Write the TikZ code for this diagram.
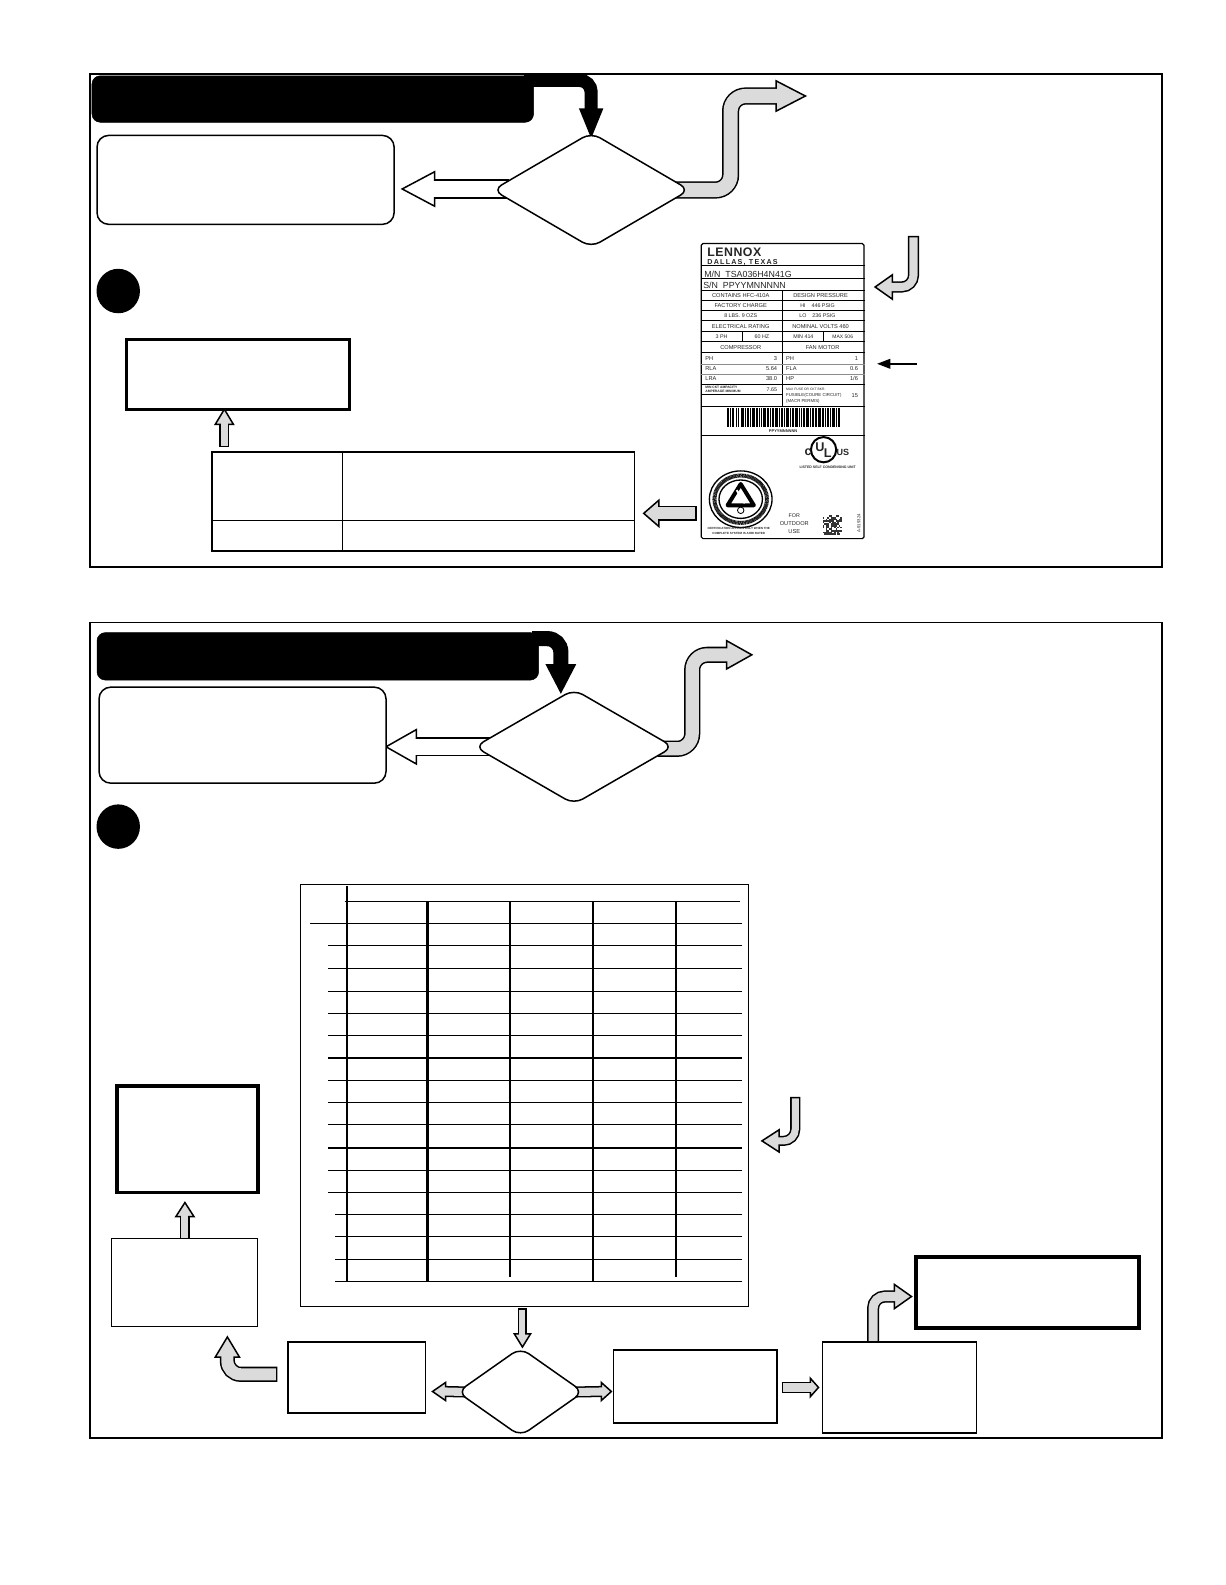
\documentclass[tikz,border=0pt]{standalone}
\usepackage{fontspec}
\setmainfont{Liberation Sans}
\usetikzlibrary{shapes.geometric,backgrounds,calc}
\definecolor{agrey}{gray}{0.86}
\newcounter{lb}
\tikzset{
  panel/.style={draw=black,line width=0.9pt,fill=none},
  banner/.style={draw=black,fill=black,rounded corners=5pt,inner sep=0pt,line width=0.3pt},
  rbox/.style={draw=black,fill=white,rounded corners=7pt,line width=0.9pt,inner sep=0pt},
  ddd/.style={diamond,draw=black,fill=white,rounded corners=6pt,line width=0.9pt,inner sep=0pt,aspect=1.7},
  dot/.style={ellipse,fill=black,inner sep=0pt},
  thick box/.style={draw=black,fill=white,line width=2pt,inner sep=0pt},
  thin box/.style={draw=black,fill=white,line width=0.7pt,inner sep=0pt},
  mid box/.style={draw=black,fill=white,line width=1pt,inner sep=0pt},
  lbl/.style={inner sep=0pt,outer sep=0pt,text=black!85},
  gridh/.style={draw=black,line width=0.7pt},
  gridv/.style={draw=black,line width=1.3pt},
  lab/.style={draw=black,line width=0.55pt},
  labthin/.style={draw=black!45,line width=0.25pt},
}
\newcommand\pw{*0.6063pt}
% options, path, shaft width, fill, end coordinate, angle, head length, head half width
\newcommand\BlockArrow[8]{%
  \draw[black,line width=(#3+3)\pw,#1,shorten <=-0.9pt] #2;
  \draw[shift={(#5)},rotate=#6,fill=#4,draw=black,line width=0.9pt,line join=miter] (#7,0)--(0,#8)--(0,-#8)--cycle;
  \draw[#4,line width=#3\pw,#1,shorten >=-1.5pt] #2;
}
\newcommand\LT[4][]{\stepcounter{lb}\node[lbl,#1] (lt\thelb) at (#2,#3) {#4};}
\newcommand\fs[1]{\fontsize{#1}{#1}\selectfont}
\begin{document}
\begin{tikzpicture}[x=0.6063pt,y=-0.6063pt]
\useasboundingbox (0,0) rectangle (1212.3,1568.5);

% ---------- panels
\node[panel,minimum width=1061\pw,minimum height=488\pw,inner sep=0pt] (p1) at (619.5,317) {};
\node[panel,minimum width=1061\pw,minimum height=807\pw,inner sep=0pt] (p2) at (619.5,1019.5) {};

% ---------- top panel
\node[banner,minimum width=437\pw,minimum height=46\pw] (ban1) at (309.5,98) {};
\node[rbox,minimum width=294\pw,minimum height=88\pw] (rb1) at (243,178) {};
\node[ddd,minimum width=195\pw,minimum height=114\pw] (d1) at (585,188) {};
\node[dot,minimum width=43\pw,minimum height=44\pw] (c1) at (117,288) {};
\node[thick box,minimum width=221\pw,minimum height=69\pw] (tb1) at (235.5,370.5) {};
\node[mid box,minimum width=418\pw,minimum height=98\pw] (tab1) at (419,496) {};
\coordinate (tab1v) at (339,447);
\coordinate (tab1w) at (339,545);
\draw[mid box] (tab1v) -- (tab1w);
\draw[mid box] (tab1.west |- 0,515) -- (tab1.east |- 0,515);

% ---------- rating label
\node[draw=black,fill=white,line width=0.7pt,rounded corners=1pt,minimum width=161\pw,minimum height=292\pw,inner sep=0pt] (rl) at (774.5,387) {};
\foreach \y in {263,276,287,297,307,317,328,338,349,380,402,431} \draw[lab] (rl.west |- 0,\y) -- (rl.east |- 0,\y);
\draw[lab] (774.5,287) -- (774.5,402);
\draw[lab] (734.5,328) -- (734.5,338);
\draw[lab] (815,328) -- (815,338);
\foreach \y in {360,370} \draw[labthin] (rl.west |- 0,\y) -- (rl.east |- 0,\y);
\draw[lab] (694,390) -- (774.5,390);
\LT[anchor=west,font=\bfseries\fs{7.4}\addfontfeatures{LetterSpace=4}]{700}{249.5}{LENNOX}
\LT[anchor=west,font=\bfseries\fs{4.3}\addfontfeatures{LetterSpace=17}]{700}{259.5}{DALLAS, TEXAS}
\LT[anchor=west,font=\fs{5.3}]{697}{271}{M/N\ \ TSA036H4N41G}
\LT[anchor=west,font=\fs{5.3}]{696}{282}{S/N\ \ PPYYMNNNNN}
\LT[font=\fs{3.4}]{733}{292}{CONTAINS HFC-410A}
\LT[font=\fs{3.4}]{812}{292}{DESIGN PRESSURE}
\LT[font=\fs{3.4}]{733}{302}{FACTORY CHARGE}
\LT[font=\fs{3.2}]{809}{302}{HI \ \ \ 446 PSIG}
\LT[font=\fs{3.2}]{733}{312}{8 LBS. 9 OZS}
\LT[font=\fs{3.2}]{809}{312}{LO \ \ \ 236 PSIG}
\LT[font=\fs{3.4}]{733}{323}{ELECTRICAL RATING}
\LT[font=\fs{3.4}]{812}{323}{NOMINAL VOLTS 460}
\LT[font=\fs{3.2}]{714}{333}{3 PH}
\LT[font=\fs{3.2}]{754}{333}{60 HZ}
\LT[font=\fs{3.2}]{795}{333}{MIN 414}
\LT[font=\fs{3}]{834}{333}{MAX 506}
\LT[font=\fs{3.4}]{733}{344}{COMPRESSOR}
\LT[font=\fs{3.4}]{814}{344}{FAN MOTOR}
\LT[anchor=west,font=\fs{3.4}]{698}{355}{PH}
\LT[anchor=east,font=\fs{3.4}]{769}{355}{3}
\LT[anchor=west,font=\fs{3.4}]{778}{355}{PH}
\LT[anchor=east,font=\fs{3.4}]{849}{355}{1}
\LT[anchor=west,font=\fs{3.4}]{698}{365}{RLA}
\LT[anchor=east,font=\fs{3.4}]{769}{365}{5.64}
\LT[anchor=west,font=\fs{3.4}]{778}{365}{FLA}
\LT[anchor=east,font=\fs{3.4}]{849}{365}{0.6}
\LT[anchor=west,font=\fs{3.4}]{698}{375}{LRA}
\LT[anchor=east,font=\fs{3.4}]{769}{375}{38.0}
\LT[anchor=west,font=\fs{3.4}]{778}{375}{HP}
\LT[anchor=east,font=\fs{3.4}]{849}{375}{1/6}
\LT[anchor=west,font=\bfseries\fs{2}]{698}{383.5}{MIN CKT AMPACITY}
\LT[anchor=west,font=\bfseries\fs{2}]{698}{387}{AMPERAGE MINIMUM}
\LT[anchor=east,font=\fs{3.2}]{769}{386}{7.65}
\LT[anchor=west,font=\fs{2}]{778}{385}{MAX FUSE OR CKT BKR.}
\LT[anchor=west,font=\fs{2.6}]{778}{391}{FUSIBLE(COURE CIRCUIT)}
\LT[anchor=west,font=\fs{2.6}]{778}{397}{(MACR PERMIS)}
\LT[anchor=east,font=\fs{3.4}]{849}{391}{15}
% barcode
\foreach \x/\w in {719/2,722/1,724/2,728/1,730/1,733/3,737/1,739/2,742/1,744/3,748/2,751/1,753/1,755/3,759/2,762/1,764/2,767/3,771/1,773/2,776/1,778/3,782/1,784/2,787/3,791/1,793/1,795/2,798/3,802/1,804/2,807/1,809/3,813/2,816/1,818/2,821/1,823/3,827/1,829/2}
  \fill[black] (\x,404) rectangle (\x+\w,423);
\LT[font=\bfseries\fs{2.4}]{775}{426.5}{PPYYMNNNNN}
% UL mark
\node[circle,draw=black,line width=1.2pt,fill=white,minimum size=25\pw,inner sep=0pt] (ul) at (815,445) {};
\LT[font=\bfseries\fs{7.6}]{811.5}{442.5}{U}
\LT[font=\bfseries\fs{7.6}]{819}{448}{L}
\LT[anchor=east,font=\bfseries\fs{7.5}]{803}{447}{c}
\LT[anchor=west,font=\bfseries\fs{5.4}]{828}{448}{US}
\LT[font=\bfseries\fs{2.1}]{819}{462.5}{LISTED SELF CONDENSING UNIT}
% seal
\node[ellipse,draw=black,line width=0.8pt,fill=white,minimum width=62\pw,minimum height=56\pw,inner sep=0pt] (seal) at (733,494) {};
\draw[black!90,line width=2.4pt,dash pattern=on 0.6pt off 0.25pt] (seal.center) ellipse [x radius=26,y radius=23.5];
\draw[black,line width=0.8pt] (seal.center) ellipse [x radius=21.5,y radius=19];
\draw[black,line width=2.4pt,line join=round] (720,500) -- (733,479) -- (746,500) -- cycle;
\draw[white,line width=1.2pt] (729,485) -- (737,498);
\draw[black,line width=0.5pt,fill=white] (733,505) circle [radius=3.2];
\LT[font=\bfseries\fs{1.8}]{731}{522.5}{CERTIFICATION APPLIES ONLY WHEN THE}
\LT[font=\bfseries\fs{1.8}]{731}{528}{COMPLETE SYSTEM IS AHRI RATED}
\LT[font=\fs{3.2}]{786}{510}{FOR}
\LT[font=\fs{3.4}]{786}{518}{OUTDOOR}
\LT[font=\fs{3.4}]{786}{526}{USE}
% matrix code
\pgfmathsetseed{1234}
\foreach \i in {0,...,11} \foreach \j in {0,...,11} {
  \pgfmathparse{rnd>0.45?1:0}
  \ifnum\pgfmathresult=1 \fill[black!80] (814+\i*1.6,510+\j*1.6) rectangle ++(1.6,1.6); \fi
}
\node[lbl,rotate=90,font=\fs{2.6}] (lv) at (850,518) {A-919324};

% ---------- bottom panel
\node[banner,minimum width=437\pw,minimum height=47\pw] (ban2) at (314.5,649.5) {};
\node[rbox,minimum width=284\pw,minimum height=95\pw] (rb2) at (240,727.5) {};
\node[ddd,minimum width=197\pw,minimum height=114\pw] (d2) at (568,739) {};
\node[dot,minimum width=43\pw,minimum height=44\pw] (c2) at (117,818) {};
\node[thin box,minimum width=444\pw,minimum height=418\pw] (tab2) at (519,1084) {};
% data grid
\draw[gridv] (343,877) -- (343,1268);
\foreach \x/\e in {423/1268,505/1264,587/1268,669/1264} \draw[gridv] (\x,892) -- (\x,\e);
\draw[gridh] (341,892) -- (732,892);
\draw[gridh] (307,914) -- (734,914);
\foreach \y in {936,958,981,1003,1025,1047,1069,1091,1113,1136,1158,1180} \draw[gridh] (325,\y) -- (734,\y);
\foreach \y in {1202,1224,1246,1268} \draw[gridh] (332,\y) -- (734,\y);

\node[thick box,line width=2.2pt,minimum width=139\pw,minimum height=105\pw] (tb2) at (185.5,1127.5) {};
\node[thin box,minimum width=145\pw,minimum height=87\pw] (b3) at (182.5,1269.5) {};
\node[mid box,minimum width=136\pw,minimum height=70\pw] (b4) at (353,1363) {};
\node[ddd,aspect=1.4,minimum width=125\pw,minimum height=88\pw] (d3) at (515,1377.5) {};
\node[mid box,minimum width=162\pw,minimum height=72\pw] (b5) at (688,1372) {};
\node[thin box,minimum width=152\pw,minimum height=90\pw] (b6) at (890,1373) {};
\node[thick box,line width=2.4pt,minimum width=221\pw,minimum height=70\pw] (tb3) at (1016.5,1279) {};

% ---------- block arrows (behind the boxes)
\begin{scope}[on background layer]
\coordinate (s1) at (520,79.5);
\coordinate (e1) at (585,108);
\BlockArrow{rounded corners=7pt}{(s1) -- (585,79.5) -- (e1)}{10}{black}{e1}{-90}{27}{11}
\coordinate (e2) at (768,95);
\BlockArrow{rounded corners=9pt}{($(d1.east)+(-15,0)$) -- (723,188) -- (723,95) -- (e2)}{14}{agrey}{e2}{0}{29}{15}
\coordinate (e3) at (430,187);
\BlockArrow{}{($(d1.west)+(15,-1)$) -- (e3)}{16}{white}{e3}{180}{32}{17}
\coordinate (e4) at (222,420);
\BlockArrow{}{(222,441) -- (e4)}{7}{agrey}{e4}{90}{15}{9}
\coordinate (e5) at (652,508);
\coordinate (s5) at (688,508);
\BlockArrow{}{(s5) -- (e5)}{12}{agrey}{e5}{180}{15}{13}
\coordinate (s6) at (904,235);
\coordinate (e6) at (883,284);
\BlockArrow{rounded corners=7pt}{(s6) -- (904,284) -- (e6)}{8}{agrey}{e6}{180}{17}{12}
\coordinate (s7) at (528,632);
\coordinate (e7) at (555,658);
\BlockArrow{rounded corners=8pt}{(s7) -- (555,632) -- (e7)}{12}{black}{e7}{-90}{27}{14}
\coordinate (e8) at (719,648);
\BlockArrow{rounded corners=9pt}{($(d2.east)+(-15,2)$) -- (685,741) -- (685,648) -- (e8)}{13}{agrey}{e8}{0}{25}{14}
\coordinate (e9) at (412,739);
\BlockArrow{}{($(d2.west)+(15,0)$) -- (e9)}{16}{white}{e9}{180}{30}{17}
\coordinate (s10) at (787,1087);
\coordinate (e10) at (771,1129);
\BlockArrow{rounded corners=7pt}{(s10) -- (787,1129) -- (e10)}{7}{agrey}{e10}{180}{17}{11}
\coordinate (e11) at (183,1204);
\BlockArrow{}{(183,1226) -- (e11)}{7}{agrey}{e11}{90}{14}{9}
\coordinate (s12) at (517,1296);
\coordinate (e12) at (517,1320);
\BlockArrow{}{(s12) -- (e12)}{6}{agrey}{e12}{-90}{13}{8}
\coordinate (e13) at (441,1377);
\BlockArrow{}{($(d3.west)+(10,0)$) -- (e13)}{8}{agrey}{e13}{180}{13}{9}
\coordinate (e14) at (595,1377);
\BlockArrow{}{($(d3.east)+(-10,0)$) -- (e14)}{8}{agrey}{e14}{0}{10}{9}
\coordinate (s15) at (775,1373);
\coordinate (e15) at (802,1373);
\BlockArrow{}{(s15) -- (e15)}{8}{agrey}{e15}{0}{8}{9}
\coordinate (e16) at (885,1283);
\BlockArrow{rounded corners=7pt}{(864,1328) -- (864,1283) -- (e16)}{9}{agrey}{e16}{0}{17}{12}
\coordinate (s17) at (273,1360);
\coordinate (e17) at (225,1343);
\BlockArrow{rounded corners=8pt}{(s17) -- (225,1360) -- (e17)}{12}{agrey}{e17}{90}{20}{12}
\end{scope}
% thin pointer
\coordinate (ps) at (907,360);
\coordinate (pe) at (868,360);
\draw[black,line width=1pt] (ps) -- (878,360);
\fill[black] (pe) -- (881,355) -- (881,365) -- cycle;
\end{tikzpicture}
\end{document}
